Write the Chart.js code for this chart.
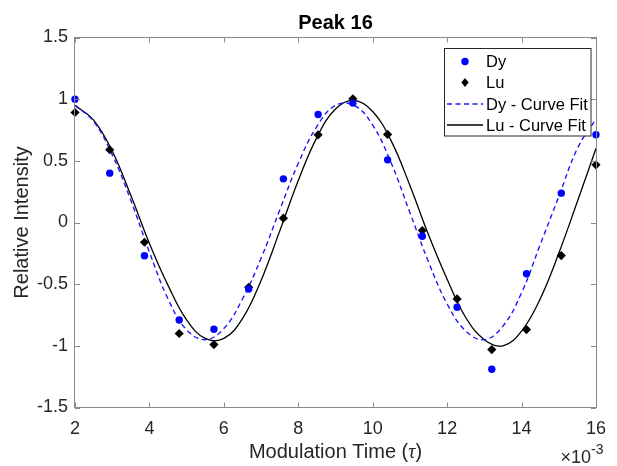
<!DOCTYPE html>
<html>
<head>
<meta charset="utf-8">
<script src="https://cdn.jsdelivr.net/npm/chart.js@4.4.1/dist/chart.umd.min.js"></script>
<style>
  body { margin: 0; background: #fff; }
  #wrap { width: 617px; height: 466px; }
</style>
</head>
<body>
<div id="wrap"><canvas id="myChart" width="617" height="466"></canvas></div>
<script>
// modulation times (x10^-3) of the measured points
const timePoints = [2, 2.933, 3.867, 4.8, 5.733, 6.667, 7.6, 8.533, 9.467, 10.4, 11.333, 12.267, 13.2, 14.133, 15.067, 16];
const dyValues = [1.0, 0.40, -0.27, -0.79, -0.865, -0.54, 0.354, 0.876, 0.968, 0.508, -0.111, -0.687, -1.19, -0.416, 0.238, 0.711];
const luValues = [0.892, 0.59, -0.16, -0.90, -0.99, -0.525, 0.035, 0.711, 1.003, 0.714, -0.065, -0.62, -1.03, -0.868, -0.268, 0.468];

// curve fits
const fitTimes = [2, 2.5, 3, 3.5, 4, 4.5, 5, 5.5, 6, 6.5, 7, 7.5, 8, 8.5, 9, 9.5, 10, 10.5, 11, 11.5, 12, 12.5, 13, 13.5, 14, 14.5, 15, 15.5, 16];
const dyFit = [0.95, 0.82, 0.55, 0.18, -0.24, -0.62, -0.87, -0.95, -0.86, -0.62, -0.29, 0.10, 0.48, 0.78, 0.95, 0.95, 0.79, 0.48, 0.08, -0.32, -0.66, -0.88, -0.95, -0.84, -0.57, -0.18, 0.21, 0.60, 0.84];
const luFit = [0.95, 0.83, 0.58, 0.22, -0.17, -0.51, -0.79, -0.94, -0.94, -0.78, -0.47, -0.07, 0.34, 0.69, 0.92, 0.99, 0.90, 0.66, 0.30, -0.10, -0.46, -0.77, -0.95, -1.00, -0.88, -0.62, -0.25, 0.17, 0.60];

const xTicks = [2, 4, 6, 8, 10, 12, 14, 16];
const yTicks = [-1.5, -1, -0.5, 0, 0.5, 1, 1.5];
const seriesNames = ['Dy', 'Lu', 'Dy - Curve Fit', 'Lu - Curve Fit'];

const FONT = '"Liberation Sans", Arial, sans-serif';
const textColor = '#262626';

function pairs(xs, ys) {
    return xs.map((x, i) => ({ x: x, y: ys[i] }));
}

// box, inside ticks, titles and legend the way MATLAB draws them
const matlabFrame = {
    id: 'matlabFrame',
    afterDatasetsDraw(chart) {
        const c = chart.ctx;
        const a = chart.chartArea;
        const sx = chart.scales.x;
        const sy = chart.scales.y;

        c.save();
        c.strokeStyle = '#8a8a8a';
        c.lineWidth = 1;
        c.strokeRect(a.left - 0.5, a.top, a.right - a.left + 1, a.bottom - a.top);

        c.beginPath();
        xTicks.forEach(v => {
            const px = Math.round(sx.getPixelForValue(v)) + 0.5;
            c.moveTo(px, a.bottom); c.lineTo(px, a.bottom - 5);
            c.moveTo(px, a.top); c.lineTo(px, a.top + 5);
        });
        yTicks.forEach(v => {
            const py = Math.round(sy.getPixelForValue(v)) + 0.5;
            c.moveTo(a.left, py); c.lineTo(a.left + 5, py);
            c.moveTo(a.right, py); c.lineTo(a.right - 5, py);
        });
        c.stroke();

        // title
        const midX = (a.left + a.right) / 2;
        c.fillStyle = '#000';
        c.font = 'bold 20px ' + FONT;
        c.textAlign = 'center';
        c.textBaseline = 'middle';
        c.fillText('Peak 16', midX, 23);

        // x label with italic tau
        c.fillStyle = textColor;
        const partA = 'Modulation Time (';
        const partC = ')';
        c.font = '20px ' + FONT;
        const wA = c.measureText(partA).width;
        const wC = c.measureText(partC).width;
        c.font = 'italic 20px "Liberation Serif", serif';
        const wB = c.measureText('\u03c4').width;
        let x0 = midX - (wA + wB + wC) / 2;
        c.textAlign = 'left';
        c.textBaseline = 'alphabetic';
        c.font = '20px ' + FONT;
        c.fillText(partA, x0, 458);
        c.font = 'italic 20px "Liberation Serif", serif';
        c.fillText('\u03c4', x0 + wA, 458);
        c.font = '20px ' + FONT;
        c.fillText(partC, x0 + wA + wB, 458);

        // exponent
        c.font = '18px ' + FONT;
        c.textAlign = 'right';
        c.fillText('\u00d710', 591, 463);
        c.font = '14px ' + FONT;
        c.textAlign = 'left';
        c.fillText('-3', 591, 454);

        // y label
        c.save();
        c.translate(22, (a.top + a.bottom) / 2);
        c.rotate(-Math.PI / 2);
        c.font = '20px ' + FONT;
        c.textAlign = 'center';
        c.textBaseline = 'middle';
        c.fillText('Relative Intensity', 0, 0);
        c.restore();

        // legend
        const lx = 444.5, ly = 48.5, lw = 146.5, lh = 87.5;
        c.fillStyle = '#fff';
        c.fillRect(lx, ly, lw, lh);
        c.strokeStyle = '#262626';
        c.lineWidth = 1;
        c.strokeRect(lx, ly, lw, lh);
        const rows = [61.5, 82.5, 104, 125];
        c.font = '16.5px ' + FONT;
        c.textBaseline = 'middle';
        c.textAlign = 'left';
        chart.data.datasets.forEach((ds, i) => {
            const ry = rows[i];
            if (i === 0) {
                c.fillStyle = ds.backgroundColor;
                c.beginPath();
                c.arc(465, ry, ds.pointRadius, 0, Math.PI * 2);
                c.fill();
            } else if (i === 1) {
                const r = ds.pointRadius;
                c.fillStyle = ds.backgroundColor;
                c.beginPath();
                c.moveTo(465, ry - r); c.lineTo(465 + r * 0.8, ry);
                c.lineTo(465, ry + r); c.lineTo(465 - r * 0.8, ry);
                c.closePath();
                c.fill();
            } else {
                c.strokeStyle = ds.borderColor;
                c.lineWidth = ds.borderWidth;
                c.setLineDash(ds.borderDash || []);
                c.beginPath();
                c.moveTo(447, ry); c.lineTo(483, ry);
                c.stroke();
                c.setLineDash([]);
            }
            c.fillStyle = '#000';
            c.fillText(ds.label, 486, ry + 1);
        });
        c.restore();
    }
};

Chart.defaults.font.family = FONT;

const ctx = document.getElementById('myChart');
const myChart = new Chart(ctx, {
    type: 'scatter',
    data: {
        datasets: [
            {
                label: seriesNames[0],
                data: pairs(timePoints, dyValues),
                backgroundColor: '#0000ff',
                borderWidth: 0,
                pointStyle: 'circle',
                pointRadius: 3.7,
                clip: false
            },
            {
                label: seriesNames[1],
                data: pairs(timePoints, luValues),
                backgroundColor: '#000',
                borderWidth: 0,
                pointStyle: 'rectRot',
                pointRadius: 4.6,
                clip: false
            },
            {
                label: seriesNames[2],
                type: 'line',
                data: pairs(fitTimes, dyFit),
                borderColor: '#1a1aff',
                borderWidth: 1.4,
                borderDash: [5, 3.5],
                pointRadius: 0,
                tension: 0.4,
                fill: false
            },
            {
                label: seriesNames[3],
                type: 'line',
                data: pairs(fitTimes, luFit),
                borderColor: '#000',
                borderWidth: 1.3,
                pointRadius: 0,
                tension: 0.4,
                fill: false
            }
        ]
    },
    options: {
        responsive: false,
        devicePixelRatio: 1,
        animation: false,
        layout: { padding: { top: 37.5, right: 14, left: 0, bottom: 0 } },
        plugins: {
            legend: { display: false },
            tooltip: { enabled: false },
            title: { display: false }
        },
        scales: {
            x: {
                type: 'linear',
                min: 2,
                max: 16,
                afterFit: s => { s.height = 466 - 407.5; },
                afterBuildTicks: s => { s.ticks = xTicks.map(v => ({ value: v })); },
                grid: { display: false, drawTicks: false },
                border: { display: false },
                ticks: { color: textColor, font: { size: 18 }, padding: 11, autoSkip: false, maxRotation: 0, callback: v => String(v) }
            },
            y: {
                type: 'linear',
                min: -1.5,
                max: 1.5,
                afterFit: s => { s.width = 75; },
                afterBuildTicks: s => { s.ticks = yTicks.map(v => ({ value: v })); },
                grid: { display: false, drawTicks: false },
                border: { display: false },
                ticks: { color: textColor, font: { size: 18 }, padding: 7, autoSkip: false, callback: v => String(v) }
            }
        }
    },
    plugins: [matlabFrame]
});
</script>
</body>
</html>
